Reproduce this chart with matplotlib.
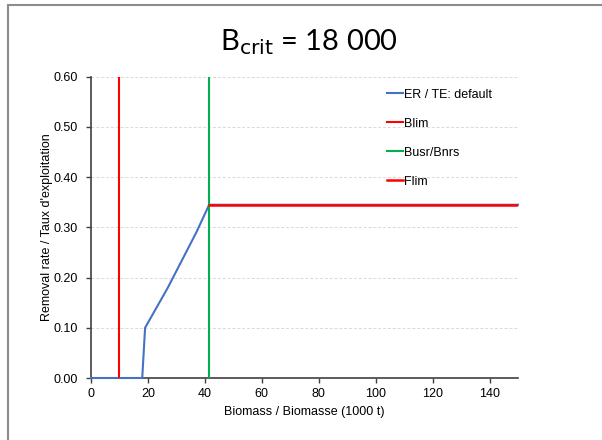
import matplotlib
matplotlib.use("Agg")
import matplotlib.pyplot as plt
from matplotlib.patches import Rectangle

# Data
er_x = [0, 18, 19, 22, 27, 32, 37, 41.5, 150]
er_y = [0.0, 0.0, 0.10, 0.13, 0.18, 0.235, 0.29, 0.345, 0.345]
blim = 10
busr = 41.5
flim = 0.345
flim_x = [41.5, 150]
xticks = [0, 20, 40, 60, 80, 100, 120, 140]
yticks = [0.0, 0.1, 0.2, 0.3, 0.4, 0.5, 0.6]

plt.rcParams['font.family'] = ['Liberation Sans', 'DejaVu Sans']

fig = plt.figure(figsize=(6.02, 4.40), dpi=100)
fig.patches.append(Rectangle((8/602, -0.05), 1.2, 1 - 5/440 + 0.05,
                             transform=fig.transFigure, fill=False,
                             edgecolor='#8c8c8c', linewidth=1.5))

ax = fig.add_axes([91/602, 1 - 378/440, (518 - 91)/602, (378 - 76.7)/440])

ax.plot(er_x, er_y, color='#4472c4', lw=1.5, label='ER / TE: default',
        zorder=3, clip_on=False)
ax.axvline(blim, color='#ff0000', lw=1.5, label='Blim', zorder=4)
ax.axvline(busr, color='#00b050', lw=1.5, label='Busr/Bnrs', zorder=4)
ax.plot(flim_x, [flim, flim], color='#ff0000', lw=1.8, label='Flim', zorder=5)

ax.set_xlim(0, 150)
ax.set_ylim(0, 0.6)
ax.set_xticks(xticks)
ax.set_yticks(yticks)
ax.set_yticklabels([f"{v:.2f}" for v in yticks])
ax.tick_params(labelsize=9, length=3.5, width=1, color='#404040')
ax.tick_params(axis='y', pad=6)
ax.tick_params(axis='x', pad=4)
ax.grid(axis='y', color='#d9d9d9', linestyle=(0, (3, 2)), lw=0.7)
ax.set_axisbelow(True)
for s in ['top', 'right']:
    ax.spines[s].set_visible(False)
for s in ['left', 'bottom']:
    ax.spines[s].set_color('#404040')
    ax.spines[s].set_linewidth(1.2)

ax.set_xlabel('Biomass / Biomasse (1000 t)', fontsize=9, labelpad=4)
ax.set_ylabel("Removal rate / Taux d'exploitation", fontsize=9, labelpad=0)

leg = ax.legend(loc='upper left', bbox_to_anchor=(0.666, 0.997), frameon=False,
                fontsize=9, handlelength=1.3, handletextpad=0.1,
                labelspacing=1.36)

fig.text(309/602, 1 - 42/440, r'B$_{\mathrm{crit}}$ = 18 000', ha='center',
         va='center', fontsize=21, family=['Lato', 'DejaVu Sans'])

fig.savefig('out.png', dpi=100)
